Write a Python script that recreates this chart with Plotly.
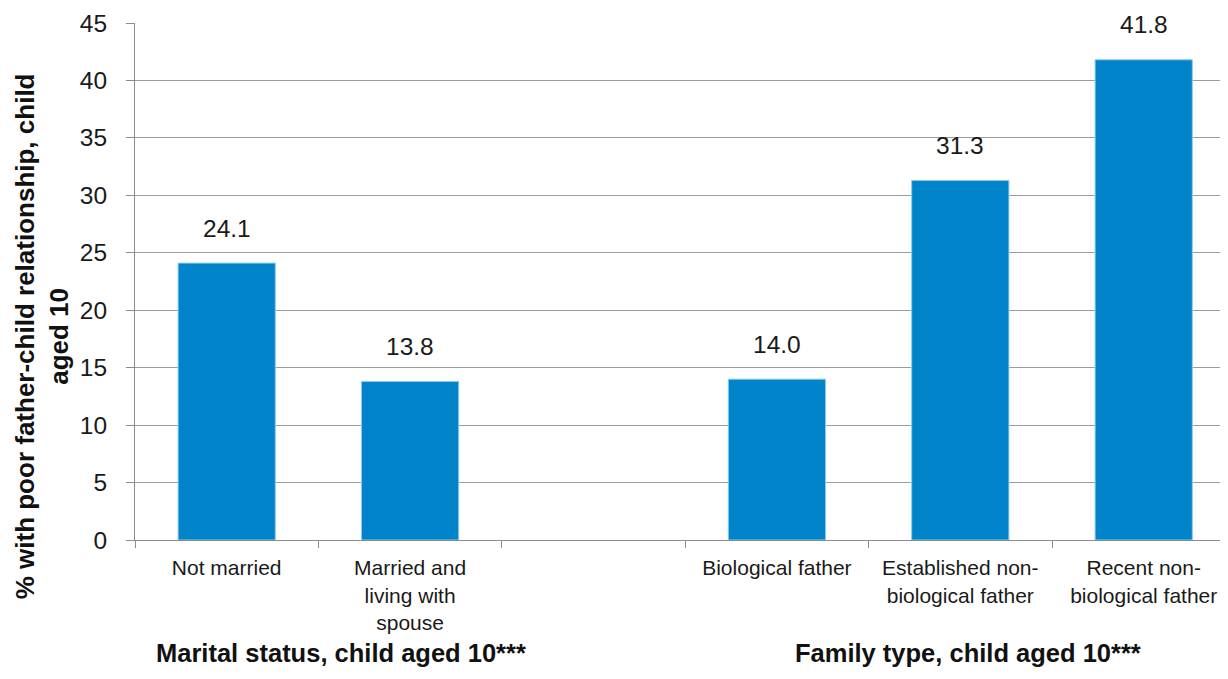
import plotly.graph_objects as go

# categories (blank slot separates the two groups)
categories = [
    "Not married",
    "Married and<br>living with<br>spouse",
    " ",
    "Biological father",
    "Established non-<br>biological father",
    "Recent non-<br>biological father",
]
values = [24.1, 13.8, None, 14.0, 31.3, 41.8]
group_labels = ["Marital status, child aged 10***", "Family type, child aged 10***"]
group_x = [0.190, 0.768]
y_title = "% with poor father-child relationship, child<br>aged 10"

FONT = "Liberation Sans, Arial, sans-serif"
BLUE = "#0083C8"

fig = go.Figure(go.Bar(
    x=categories, y=values,
    marker=dict(color=BLUE, line=dict(color="#8ccbf0", width=1)),
    hoverinfo="x+y",
))

# value labels above bars
for c, v in zip(categories, values):
    if v is None:
        continue
    fig.add_annotation(
        x=c, y=v, text=f"{v:.1f}", showarrow=False, yanchor="middle",
        yshift=35, font=dict(size=24.5, color="#1a1a1a", family=FONT),
    )

# group labels under the axis
for label, xpos in zip(group_labels, group_x):
    fig.add_annotation(
        x=xpos, y=-0.218, xref="paper", yref="paper", text=f"<b>{label}</b>",
        xanchor="center", yanchor="middle", showarrow=False,
        font=dict(size=25.5, color="#111", family=FONT),
    )

# y axis title
fig.add_annotation(
    x=-0.0857, y=0.394, xref="paper", yref="paper", text=f"<b>{y_title}</b>",
    xanchor="center", yanchor="middle", textangle=-90, showarrow=False,
    font=dict(size=26, color="#111", family=FONT),
)

fig.update_layout(
    width=1212, height=663,
    margin=dict(l=127, r=0, t=15, b=131),
    plot_bgcolor="white", paper_bgcolor="white",
    bargap=0.47, showlegend=False,
    font=dict(family=FONT, color="#1a1a1a"),
)
fig.update_xaxes(
    type="category", range=[-0.5, 5.416], tickson="boundaries", ticks="outside",
    ticklen=7, tickcolor="#8c8c8c", showline=True, linecolor="#8c8c8c",
    linewidth=1, showgrid=False, ticklabelstandoff=9,
    tickfont=dict(size=21, family=FONT, color="#1a1a1a"),
)
fig.update_yaxes(
    range=[0, 45], dtick=5, ticks="outside", ticklen=8, tickcolor="#8c8c8c",
    showline=True, linecolor="#8c8c8c", linewidth=1,
    gridcolor="#9c9c9c", gridwidth=1.2, zeroline=False, ticklabelstandoff=14,
    tickfont=dict(size=24.5, family=FONT, color="#1a1a1a"),
)

fig.write_html("out.html")
